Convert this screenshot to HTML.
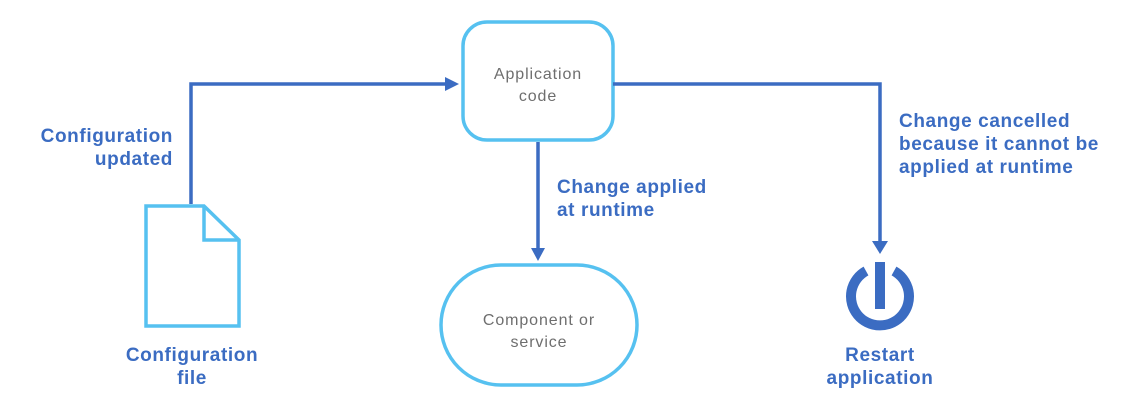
<!DOCTYPE html>
<html><head><meta charset="utf-8"><style>
body{margin:0;background:#fff;}
svg text{font-family:"Liberation Sans",sans-serif;}
.b{fill:#3b6cc2;font-weight:bold;font-size:19px;letter-spacing:0.6px;}
.g{fill:#6e6e6e;font-size:16px;letter-spacing:0.9px;}
</style></head><body>
<svg width="1131" height="412" viewBox="0 0 1131 412">
<rect x="463" y="22" width="150" height="118" rx="24" fill="#fff" stroke="#56c1f0" stroke-width="3.5"/>
<rect x="441" y="265" width="196" height="120" rx="60" fill="#fff" stroke="#56c1f0" stroke-width="3.5"/>
<path d="M146 206 H204 L239 240 V326 H146 Z" fill="#fff" stroke="#56c1f0" stroke-width="3.5"/>
<path d="M204 206 V240 H239" fill="none" stroke="#56c1f0" stroke-width="3.5"/>
<g stroke="#3b6cc2" stroke-width="3.5" fill="none">
<path d="M191 204 V84 H448"/>
<path d="M538 142 V250"/>
<path d="M613 84 H880 V244"/>
</g>
<g fill="#3b6cc2">
<path d="M445 77 L459 84 L445 91 Z"/>
<path d="M531 248 L538 261 L545 248 Z"/>
<path d="M872 241 L880 254 L888 241 Z"/>
</g>
<path d="M866 271 A29 29 0 1 0 894 271" fill="none" stroke="#3b6cc2" stroke-width="10"/>
<rect x="875" y="262" width="10" height="47" fill="#3b6cc2"/>
<text class="b" x="173" y="142" text-anchor="end">Configuration</text>
<text class="b" x="173" y="165" text-anchor="end">updated</text>
<text class="b" x="192" y="361" text-anchor="middle">Configuration</text>
<text class="b" x="192" y="384" text-anchor="middle">file</text>
<text class="b" x="557" y="193">Change applied</text>
<text class="b" x="557" y="216">at runtime</text>
<text class="b" x="899" y="127">Change cancelled</text>
<text class="b" x="899" y="150">because it cannot be</text>
<text class="b" x="899" y="173">applied at runtime</text>
<text class="b" x="880" y="361" text-anchor="middle">Restart</text>
<text class="b" x="880" y="384" text-anchor="middle">application</text>
<text class="g" x="538" y="79" text-anchor="middle">Application</text>
<text class="g" x="538" y="101" text-anchor="middle">code</text>
<text class="g" x="539" y="325" text-anchor="middle">Component or</text>
<text class="g" x="539" y="347" text-anchor="middle">service</text>
</svg>
</body></html>
